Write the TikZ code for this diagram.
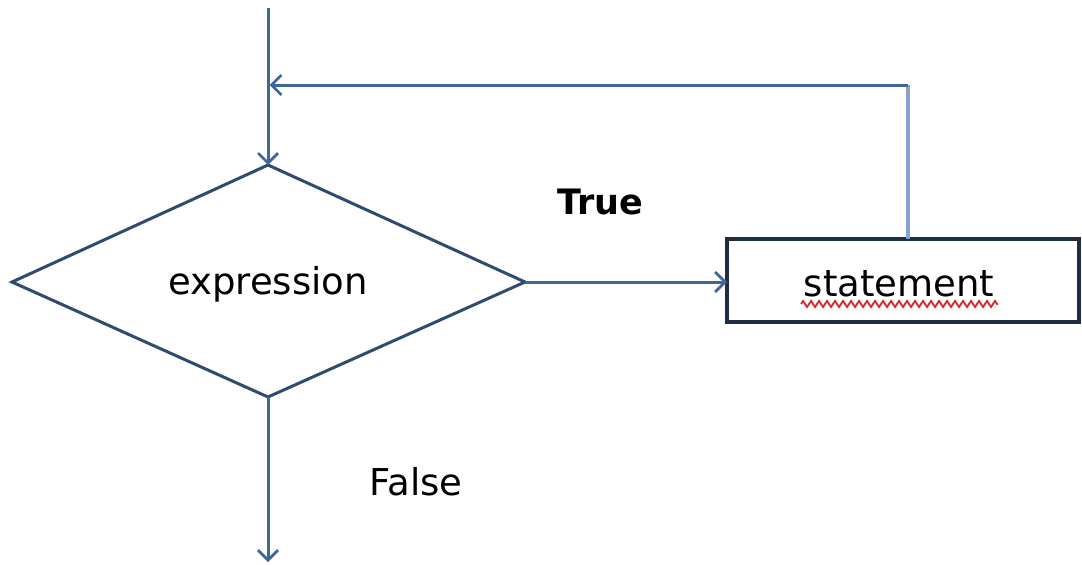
\documentclass[tikz,border=0pt]{standalone}
\usepackage{fontspec}
\setmainfont{DejaVu Sans}
\usetikzlibrary{arrows.meta,decorations.pathmorphing}
\definecolor{flowline}{HTML}{41679A}
\definecolor{loopline}{HTML}{86A5CC}
\definecolor{diamondedge}{HTML}{2F4B70}
\definecolor{boxedge}{HTML}{1F2D44}
\definecolor{spellred}{HTML}{D9262B}
\tikzset{
  conn/.style={draw=flowline, line width=3pt},
  tip/.style={-{Straight Barb[length=10pt,width=20pt,line width=2.8pt]}},
  label/.style={font=\fontsize{37}{44}\selectfont, text=black, inner sep=0pt},
}
\begin{document}
\begin{tikzpicture}[x=1pt,y=-1pt]
  \useasboundingbox (0,0) rectangle (1082,565);
  \fill[white] (0,0) rectangle (1082,565);

  % decision diamond
  \coordinate (dtop) at (268,165);
  \coordinate (dright) at (525,282);
  \coordinate (dbottom) at (268,397);
  \coordinate (dleft) at (12,282);
  \draw[diamondedge, line width=3pt, line join=miter]
    (dtop) -- (dright) -- (dbottom) -- (dleft) -- cycle;
  \node[label] (expr) at (268,284) {expression};

  % statement box
  \draw[boxedge, line width=3.6pt] (727,239) rectangle (1079,322);
  \coordinate (sleft) at (727,282);
  \coordinate (stop) at (908,239);
  \node[label] (stmt) at (899,284) {statement};
  \draw[spellred, line width=1.8pt, decorate,
        decoration={zigzag, segment length=8pt, amplitude=3pt}]
    (801,304) -- (998,304);

  % entry line and loop back
  \coordinate (entry) at (268,8);
  \coordinate (corner) at (908,85);
  \coordinate (join) at (268,85);
  \draw[conn, tip] (entry) -- (dtop);
  \draw[loopline, line width=3.4pt] (stop) -- (corner);
  \draw[conn, tip] (corner) -- ([xshift=1.5pt]join);

  % true branch
  \draw[conn, tip] (dright) -- (sleft);
  \node[label, font=\bfseries\fontsize{35}{42}\selectfont] (true) at (600,202) {True};

  % false branch
  \coordinate (exit) at (268,562);
  \draw[conn, tip] (dbottom) -- (exit);
  \node[label] (false) at (416,482) {False};
\end{tikzpicture}
\end{document}
